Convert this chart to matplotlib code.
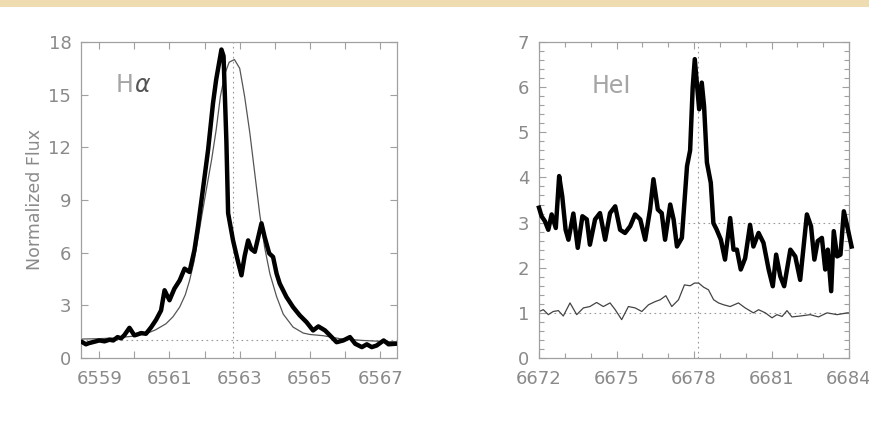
import matplotlib
matplotlib.use("Agg")
import matplotlib.pyplot as plt
from matplotlib.ticker import MultipleLocator, FixedLocator
from matplotlib.patches import Rectangle

# ---------------- data ----------------
ha_obs_wave = [6558.52, 6558.62, 6558.71, 6558.85, 6559.0, 6559.15, 6559.29, 6559.4, 6559.52,
               6559.62, 6559.71, 6559.86, 6560.0, 6560.1,
               6560.19, 6560.33, 6560.48, 6560.62, 6560.76, 6560.86, 6561.0, 6561.14, 6561.29,
               6561.43, 6561.57, 6561.71, 6561.81, 6561.95, 6562.1, 6562.24, 6562.33, 6562.48,
               6562.54, 6562.62, 6562.67, 6562.81, 6562.95, 6563.05, 6563.14, 6563.24, 6563.33,
               6563.43, 6563.62, 6563.71, 6563.84, 6563.95, 6564.05, 6564.14, 6564.33, 6564.52,
               6564.71, 6564.9, 6565.09, 6565.24, 6565.43, 6565.57, 6565.76, 6565.95, 6566.14,
               6566.29, 6566.48, 6566.62, 6566.76, 6566.9, 6567.1, 6567.24, 6567.43]
ha_obs_flux = [0.90, 0.78, 0.85, 0.92, 1.0, 0.95, 1.04, 1.0, 1.19,
               1.12, 1.29, 1.72, 1.29, 1.35,
               1.42, 1.38, 1.76, 2.18, 2.71, 3.86, 3.29, 3.95, 4.42,
               5.09, 4.90, 6.14, 7.47, 9.57, 11.86, 14.52, 15.86, 17.57,
               17.2, 12.4, 8.25, 6.7, 5.5, 4.71, 5.8, 6.7, 6.2,
               6.05, 7.67, 6.9, 5.96, 5.76, 4.81, 4.24, 3.48, 2.9,
               2.43, 2.05, 1.57, 1.8, 1.57, 1.29, 0.9, 1.0, 1.19,
               0.81, 0.62, 0.78, 0.62, 0.71, 1.0, 0.78, 0.81]

ha_mod_wave = [6558.5, 6559.0, 6559.5, 6560.0, 6560.33, 6560.6, 6560.9, 6561.1, 6561.29, 6561.45,
               6561.57, 6561.7, 6561.82, 6561.92, 6562.05, 6562.2, 6562.33, 6562.45, 6562.58,
               6562.7, 6562.85, 6563.0, 6563.14, 6563.29, 6563.43, 6563.57, 6563.71, 6563.86,
               6564.05, 6564.24, 6564.52, 6564.81, 6565.0, 6565.38, 6565.86, 6566.5, 6567.0, 6567.45]
ha_mod_flux = [1.08, 1.1, 1.15, 1.25, 1.38, 1.6, 1.95, 2.35, 2.9, 3.6,
               4.4, 5.5, 6.9, 8.1, 9.6, 11.3, 13.0, 14.9, 16.2,
               16.85, 17.0, 16.5, 14.9, 12.8, 10.5, 8.2, 6.3, 4.8,
               3.5, 2.5, 1.76, 1.42, 1.34, 1.27, 1.1, 1.0, 0.95, 0.92]

he_obs_wave = [6672.0, 6672.10, 6672.23, 6672.36, 6672.49, 6672.65, 6672.78, 6672.9, 6673.03,
               6673.14, 6673.33, 6673.5, 6673.68, 6673.85, 6673.97, 6674.17, 6674.36, 6674.56,
               6674.75, 6674.95, 6675.14, 6675.33, 6675.53, 6675.72, 6675.92, 6676.11, 6676.3,
               6676.43, 6676.6, 6676.75, 6676.88, 6677.08, 6677.21, 6677.34, 6677.53, 6677.73,
               6677.85, 6677.95, 6678.03, 6678.13, 6678.2, 6678.3, 6678.39, 6678.5, 6678.65,
               6678.75, 6678.88, 6679.04, 6679.2, 6679.4, 6679.53, 6679.66, 6679.81, 6679.98,
               6680.17, 6680.3, 6680.5, 6680.69, 6680.89, 6681.05, 6681.18, 6681.34, 6681.49,
               6681.73, 6681.92, 6682.11, 6682.37, 6682.53, 6682.66, 6682.79, 6682.95, 6683.08,
               6683.18, 6683.31, 6683.41, 6683.54, 6683.67, 6683.8, 6683.93, 6684.1]
he_obs_flux = [3.33, 3.14, 3.03, 2.84, 3.18, 2.88, 4.03, 3.58, 2.84,
               2.62, 3.2, 2.44, 3.14, 3.07, 2.51, 3.07, 3.21, 2.62,
               3.21, 3.36, 2.84, 2.77, 2.92, 3.18, 3.07, 2.62, 3.29,
               3.96, 3.29, 3.21, 2.62, 3.40, 3.07, 2.47, 2.66, 4.25,
               4.6, 6.0, 6.62, 5.96, 5.51, 6.1, 5.58, 4.33, 3.88,
               2.99, 2.84, 2.62, 2.18, 3.10, 2.4, 2.4, 1.96, 2.21,
               2.95, 2.47, 2.77, 2.55, 1.96, 1.59, 2.29, 1.81, 1.59,
               2.4, 2.25, 1.73, 3.18, 2.92, 2.18, 2.59, 2.66, 1.96,
               2.4, 1.48, 2.81, 2.25, 2.29, 3.25, 2.92, 2.47]

he_mod_wave = [6672.0, 6672.17, 6672.36, 6672.55, 6672.75, 6672.94, 6673.2, 6673.46, 6673.72,
               6673.97, 6674.23, 6674.49, 6674.75, 6674.95, 6675.2, 6675.46, 6675.72, 6675.98,
               6676.24, 6676.5, 6676.69, 6676.91, 6677.14, 6677.4, 6677.63, 6677.85, 6678.02,
               6678.18, 6678.37, 6678.56, 6678.76, 6678.95, 6679.14, 6679.4, 6679.72, 6679.98,
               6680.3, 6680.5, 6680.76, 6681.02, 6681.21, 6681.41, 6681.6, 6681.79, 6682.11,
               6682.5, 6682.82, 6683.15, 6683.54, 6683.93, 6684.0]
he_mod_flux = [1.03, 1.07, 0.96, 1.03, 1.05, 0.93, 1.22, 0.96, 1.11,
               1.14, 1.23, 1.14, 1.22, 1.07, 0.85, 1.14, 1.11, 1.03,
               1.18, 1.25, 1.29, 1.38, 1.14, 1.29, 1.62, 1.6, 1.66,
               1.66, 1.57, 1.51, 1.29, 1.22, 1.18, 1.14, 1.22, 1.11,
               1.0, 1.07, 1.0, 0.89, 0.96, 0.92, 1.05, 0.91, 0.93,
               0.96, 0.91, 1.0, 0.96, 1.0, 1.0]

ha_center = 6562.8
he_center = 6678.15
ha_xticks = [6559, 6561, 6563, 6565, 6567]
he_xticks = [6672, 6675, 6678, 6681, 6684]
ha_yticks = [0, 3, 6, 9, 12, 15, 18]
he_yticks = [0, 1, 2, 3, 4, 5, 6, 7]

# ---------------- style ----------------
GRAY_TXT = "#8a8a8a"
GRAY_AX = "#a0a0a0"
DOT = "#9a9a9a"

fig = plt.figure(figsize=(8.7, 4.32), dpi=100)
fig.patch.set_facecolor("white")
fig.patches.append(Rectangle((0, 1 - 7 / 432), 1, 7 / 432, transform=fig.transFigure,
                             facecolor="#efdcb0", edgecolor="none", zorder=0))

ax1 = fig.add_axes([81 / 870, 74 / 432, 316 / 870, 316 / 432])
ax2 = fig.add_axes([539 / 870, 74 / 432, 310 / 870, 316 / 432])

for ax in (ax1, ax2):
    for s in ax.spines.values():
        s.set_color(GRAY_AX)
        s.set_linewidth(0.9)
    ax.tick_params(which="both", direction="in", top=True, right=True,
                   color=GRAY_AX, labelcolor=GRAY_TXT, labelsize=13, width=0.8)
    ax.tick_params(which="major", length=5)
    ax.tick_params(which="minor", length=3.5)
    ax.tick_params(axis="x", which="major", pad=9)
    ax.tick_params(axis="y", which="major", pad=7)

# ---- H alpha ----
ax1.set_xlim(6558.48, 6567.48)
ax1.set_ylim(0, 18)
ax1.xaxis.set_major_locator(FixedLocator(ha_xticks))
ax1.xaxis.set_minor_locator(MultipleLocator(1))
ax1.yaxis.set_major_locator(FixedLocator(ha_yticks))
ax1.tick_params(which="minor", length=5)
ax1.axhline(1, color=DOT, lw=0.8, ls=(0, (1.5, 3)), zorder=1)
ax1.axvline(ha_center, color=DOT, lw=0.8, ls=(0, (1.5, 3)), zorder=1)
ax1.plot(ha_mod_wave, ha_mod_flux, color="#555555", lw=0.9, zorder=2)
ax1.plot(ha_obs_wave, ha_obs_flux, color="black", lw=3.2, solid_joinstyle="round", zorder=3)
ax1.set_ylabel("Normalized Flux", fontsize=12.5, color=GRAY_TXT, labelpad=3)
ax1.text(0.11, 0.865, "H", transform=ax1.transAxes, fontsize=17, color="#a5a5a5",
         va="center", ha="left")
ax1.text(0.168, 0.865, r"$\alpha$", transform=ax1.transAxes, fontsize=17, color="#555555",
         va="center", ha="left")

# ---- He I ----
ax2.set_xlim(6672, 6684)
ax2.set_ylim(0, 7)
ax2.xaxis.set_major_locator(FixedLocator(he_xticks))
ax2.xaxis.set_minor_locator(MultipleLocator(1))
ax2.yaxis.set_major_locator(FixedLocator(he_yticks))
ax2.yaxis.set_minor_locator(MultipleLocator(0.2))
ax2.axhline(1, color=DOT, lw=0.8, ls=(0, (1.5, 3)), zorder=1)
ax2.plot([6677.4, 6684], [3, 3], color=DOT, lw=0.8, ls=(0, (1.5, 3)), zorder=1)
ax2.axvline(he_center, color=DOT, lw=0.8, ls=(0, (1.5, 3)), zorder=1)
ax2.plot(he_mod_wave, he_mod_flux, color="#444444", lw=0.9, zorder=2)
ax2.plot(he_obs_wave, he_obs_flux, color="black", lw=3.2, solid_joinstyle="round",
         zorder=3, clip_on=False)
ax2.text(0.17, 0.86, "HeI", transform=ax2.transAxes, fontsize=17, color="#a5a5a5",
         va="center", ha="left")

fig.savefig("out.png", dpi=100, facecolor="white")
